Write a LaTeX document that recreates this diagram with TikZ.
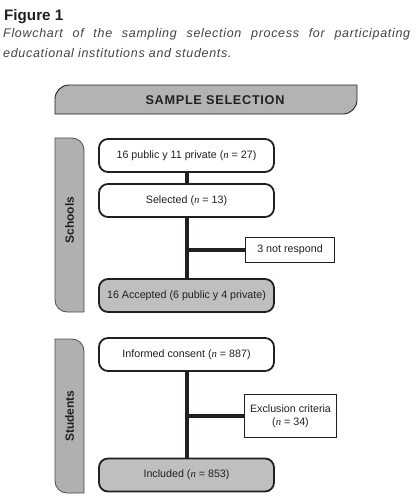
\documentclass[tikz,border=0pt]{standalone}
\usepackage{fontspec}
\setmainfont{Liberation Sans}
\newfontfamily\capfont[LetterSpace=5.5]{Liberation Sans}
\newfontfamily\nfont{Liberation Serif}
\newcommand{\nv}{{\nfont\itshape n}}
\definecolor{ink}{HTML}{231F20}
\definecolor{bannergray}{HTML}{B3B3B3}
\definecolor{bargray}{HTML}{B0B0B0}
\definecolor{boxgray}{HTML}{BFBFBF}
\tikzset{
  mainbox/.style={draw=ink, line width=1.8pt, rounded corners=9pt, minimum width=175pt,
    minimum height=33pt, fill=white, inner sep=0pt, text=ink, font=\fontsize{10.7}{12}\selectfont},
  grayfilled/.style={fill=boxgray},
  sidebox/.style={draw=ink, line width=1.2pt, fill=white, inner sep=0pt, align=center,
    text=ink, font=\fontsize{10.7}{13}\selectfont},
  conn/.style={draw=ink, line width=4pt},
  barshape/.style={fill=bargray, draw=ink!80, line width=0.8pt},
  bartext/.style={rotate=90, text=ink, font=\bfseries\fontsize{12}{13}\selectfont}
}
\begin{document}
\begin{tikzpicture}[x=1pt,y=-1pt]
\useasboundingbox (0,0) rectangle (420,501);
% title and caption
\node[anchor=base west, inner sep=0pt, text=ink, font=\bfseries\fontsize{15.2}{18}\selectfont] (title) at (4,20) {Figure 1};
\node[anchor=base west, inner sep=0pt, text=ink!85, font=\capfont\itshape\fontsize{12.5}{20}\selectfont] (cap1) at (3,37)
  {\makebox[407pt][s]{Flowchart of the sampling selection process for participating}};
\node[anchor=base west, inner sep=0pt, text=ink!85, font=\capfont\itshape\fontsize{12.5}{20}\selectfont] (cap2) at (3,57)
  {educational institutions and students.};
% banner
\draw[fill=bannergray, draw=ink, line width=0.9pt] (55,114) -- (55,99) arc[start angle=180, end angle=270, radius=14]
  -- (357,85) -- (357,100) arc[start angle=0, end angle=90, radius=14] -- cycle;
\node[text=ink, font=\capfont\bfseries\fontsize{12.7}{14}\selectfont, inner sep=0pt] (banner) at (215,100) {SAMPLE SELECTION};
% side bars
\draw[barshape] (55,138) -- (72,138) arc[start angle=270, end angle=360, radius=12]
  -- (84,312) -- (67,312) arc[start angle=90, end angle=180, radius=12] -- cycle;
\node[bartext] (schools) at (69.5,220) {Schools};
\draw[barshape] (55,339) -- (72,339) arc[start angle=270, end angle=360, radius=12]
  -- (84,493) -- (67,493) arc[start angle=90, end angle=180, radius=12] -- cycle;
\node[bartext] (students) at (69.5,416) {Students};
% schools boxes
\node[mainbox] (b1) at (186.5,155.5) {16 public y 11 private (\nv{} = 27)};
\node[mainbox] (b2) at (186.5,200.5) {Selected (\nv{} = 13)};
\node[sidebox, minimum width=89pt, minimum height=25pt] (nr) at (290,250) {3 not respond};
\node[mainbox, grayfilled] (b4) at (186.5,295.5) {16 Accepted (6 public y 4 private)};
\draw[conn] (b1.south) -- (b2.north);
\draw[conn] (b2.south) -- (b4.north);
\draw[conn] (b2.south |- nr.west) -- (nr.west);
% students boxes
\node[mainbox] (s1) at (186.5,354.5) {Informed consent (\nv{} = 887)};
\node[sidebox, minimum width=92pt, minimum height=43pt] (ex) at (290.5,416) {Exclusion criteria\\(\nv{} = 34)};
\node[mainbox, grayfilled] (s2) at (186.5,475) {Included (\nv{} = 853)};
\draw[conn] (s1.south) -- (s2.north);
\draw[conn] (s1.south |- ex.west) -- (ex.west);
\end{tikzpicture}
\end{document}
